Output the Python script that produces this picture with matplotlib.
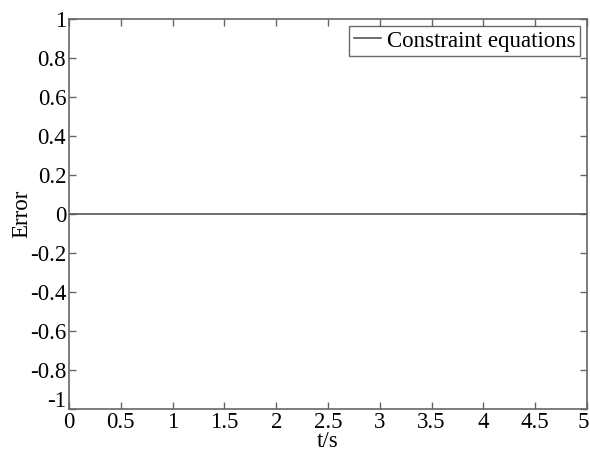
import numpy as np
import matplotlib
matplotlib.use("Agg")
import matplotlib.pyplot as plt
import matplotlib.transforms as mtransforms

plt.rcParams['font.family'] = ['Liberation Serif', 'DejaVu Serif']

# ===== DATA =====
t = [0, 0.5, 1, 1.5, 2, 2.5, 3, 3.5, 4, 4.5, 5]
error = [0, 0, 0, 0, 0, 0, 0, 0, 0, 0, 0]
xticks = [0, 0.5, 1, 1.5, 2, 2.5, 3, 3.5, 4, 4.5, 5]
yticks = [-1, -0.8, -0.6, -0.4, -0.2, 0, 0.2, 0.4, 0.6, 0.8, 1]

fig = plt.figure(figsize=(5.9, 4.51), dpi=100)
ax = fig.add_axes([69 / 590, 1 - 409 / 451, (587 - 69) / 590, (409 - 19) / 451])

ax.plot(t, error, color='#555555', linewidth=1.2, label='Constraint equations')

ax.set_xlim(0, 5)
ax.set_ylim(-1, 1)
ax.set_xticks(xticks)
ax.set_xticklabels(['0', '0.5', '1', '1.5', '2', '2.5', '3', '3.5', '4', '4.5', '5'])
ax.set_yticks(yticks)
ax.set_yticklabels(['-1', '-0.8', '-0.6', '-0.4', '-0.2', '0', '0.2', '0.4', '0.6', '0.8', '1'])

for s in ax.spines.values():
    s.set_color('#666666')
    s.set_linewidth(1.2)
ax.tick_params(direction='in', top=True, right=True, length=5, width=1,
               color='#666666', labelsize=16.5, pad=2)

# matlab style: lift the bottom y label, nudge last x label inside the figure
lbl = ax.get_yticklabels()[0]
lbl.set_transform(lbl.get_transform() + mtransforms.ScaledTranslation(0, 7 / 72, fig.dpi_scale_trans))
lbl = ax.get_xticklabels()[-1]
lbl.set_transform(lbl.get_transform() + mtransforms.ScaledTranslation(-3 / 72, 0, fig.dpi_scale_trans))

ax.set_xlabel('t/s', fontsize=16.5, labelpad=-1)
ax.set_ylabel('Error', fontsize=16.5, labelpad=-2)

leg = ax.legend(loc='upper right', fontsize=16.5, frameon=True, fancybox=False,
                handlelength=1.2, handletextpad=0.25, borderpad=0.2,
                borderaxespad=0.3)
leg.get_frame().set_edgecolor('#444444')
leg.get_frame().set_linewidth(1.0)

fig.savefig('out.png', dpi=100)
